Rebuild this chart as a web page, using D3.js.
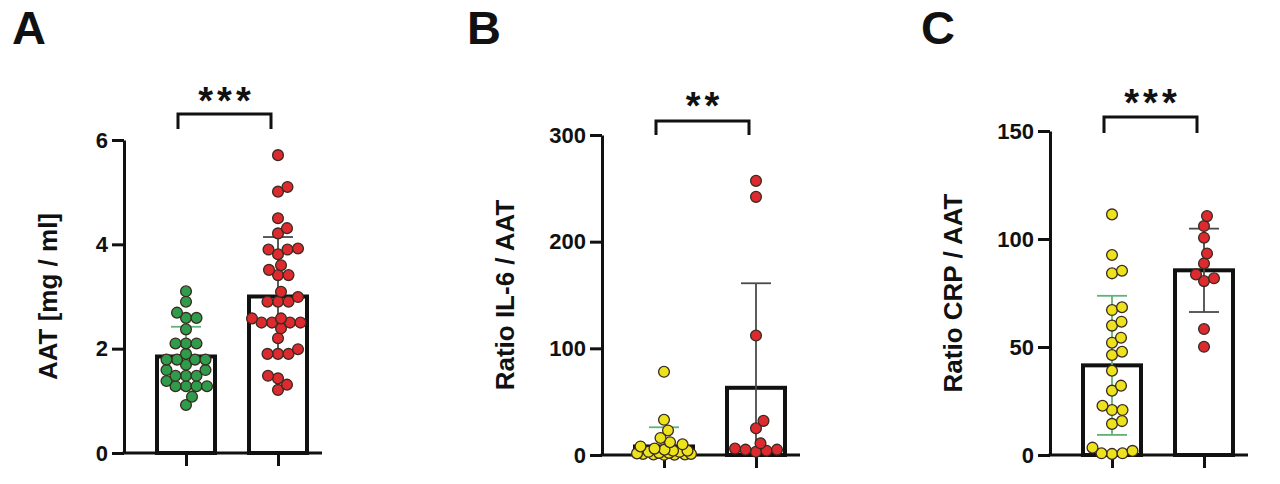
<!DOCTYPE html>
<html>
<head>
<meta charset="utf-8">
<script src="https://cdn.jsdelivr.net/npm/d3@7"></script>
<style>
  html, body { margin: 0; padding: 0; background: #fff; }
  svg { display: block; font-family: "Liberation Sans", Arial, sans-serif; }
</style>
</head>
<body>
<svg id="chart" width="1280" height="484"></svg>
<script>
// ---------------- data ----------------
const groups = ["Control", "Patient"];
const panelLetters = ["A", "B", "C"];
const yLabels = ["AAT [mg / ml]", "Ratio IL-6 / AAT", "Ratio CRP / AAT"];
const significance = ["***", "**", "***"];

const aatTicks = [0, 2, 4, 6];
const il6Ticks = [0, 100, 200, 300];
const crpTicks = [0, 50, 100, 150];

const aatControl = [3.10, 2.90, 2.59, 2.59, 2.69, 2.37, 2.10, 2.10, 2.10, 1.79, 1.79, 1.79, 1.79, 1.90,
  1.59, 1.59, 1.69, 1.48, 1.48, 1.48, 1.38, 1.28, 1.28, 1.28, 1.28, 1.08, 0.92];
const aatPatient = [5.71, 5.01, 5.10, 4.50, 4.31, 4.21, 3.92, 3.81, 3.90, 3.90, 3.60, 3.51, 3.41, 3.41,
  3.09, 2.99, 2.90, 2.90, 2.90, 2.58, 2.58, 2.50, 2.50, 2.39, 2.50, 2.50, 2.20, 1.90, 1.99, 1.90, 1.90,
  1.43, 1.48, 1.21, 1.31];
const aatMean = [1.85, 3.0];
const aatSD = [0.57, 1.14];

const il6Control = [78, 33, 23, 16, 12, 10, 8, 6, 5, 4, 4, 3, 3, 2, 2, 1.5, 1, 1, 0.5, 0.5, 0.3, 0.2];
const il6Patient = [257, 242, 112, 32, 25, 11, 5, 4, 6, 3, 5];
const il6Mean = [8, 63];
const il6SD = [18, 98];

const crpControl = [111.4, 92.6, 84.1, 85.3, 67.1, 68.4, 59.9, 61.7, 52.0, 54.3, 46.3, 47.8, 39.0, 29.8,
  32.1, 20.8, 20.8, 22.8, 15.7, 14.4, 3.4, 0.8, 0.8, 1.9, 0.5];
const crpPatient = [110.6, 106.0, 100.6, 93.3, 88.7, 83.6, 81.8, 80.5, 58.3, 50.1];
const crpMean = [41.5, 85.5];
const crpSD = [32.2, 19.3];

// ---------------- layout / style ----------------
const layouts = [
  { axisX: 124, y0: 453, yTop: 140, max: 6,   letterX: 12,  sigY: 112, brY: 114, brBottom: 129, ctrlFill: "#2e9c4a", ticks: aatTicks,
    values: [aatControl, aatPatient], mean: aatMean, sd: aatSD },
  { axisX: 602, y0: 455, yTop: 135, max: 300, letterX: 467, sigY: 117, brY: 121, brBottom: 135, ctrlFill: "#ece31c", ticks: il6Ticks,
    values: [il6Control, il6Patient], mean: il6Mean, sd: il6SD },
  { axisX: 1050, y0: 455, yTop: 131, max: 150, letterX: 921, sigY: 114, brY: 117, brBottom: 133, ctrlFill: "#ece31c", ticks: crpTicks,
    values: [crpControl, crpPatient], mean: crpMean, sd: crpSD }
];
const patientFill = "#dd2a2e";
const pointStroke = "#3a2a22";
const errColors = ["#62b277", "#4a4a4a"];
const R = 5.4;
const barW = 58;
const axisLen = 198;
const maxSpread = 27;

const svg = d3.select("#chart");

function dodge(vals, y, r) {
  const placed = [];
  const out = [];
  const cands = [0];
  for (let k = 0.5; k <= maxSpread; k += 0.5) { cands.push(k, -k); }
  vals.map((v, i) => ({ v, i }))
    .sort((a, b) => a.v - b.v)
    .forEach(d => {
      const py = y(d.v);
      let best = 0, bestScore = Infinity;
      for (const off of cands) {
        let score = 0;
        for (const p of placed) {
          const dist = Math.hypot(p.x - off, p.y - py);
          const ov = 2 * r * 0.95 - dist;
          if (ov > score) score = ov;
        }
        if (score <= 0) { best = off; bestScore = 0; break; }
        if (score < bestScore - 1e-6) { bestScore = score; best = off; }
      }
      placed.push({ x: best, y: py });
      out.push({ v: d.v, dx: best });
    });
  return out;
}

layouts.forEach((L, pi) => {
  const g = svg.append("g");
  const y = d3.scaleLinear().domain([0, L.max]).range([L.y0, L.yTop]);
  const x = d3.scalePoint().domain(groups).range([L.axisX + 62, L.axisX + 154]);

  // panel letter
  g.append("text").attr("x", L.letterX).attr("y", 44)
    .attr("font-size", 47).attr("font-weight", "bold").attr("fill", "#111")
    .text(panelLetters[pi]);

  // y axis
  const yAxis = d3.axisLeft(y).tickValues(L.ticks).tickSize(12).tickSizeOuter(0).tickPadding(4).tickFormat(d3.format("d"));
  const ya = g.append("g").attr("transform", `translate(${L.axisX},0)`).call(yAxis);
  ya.select(".domain").attr("stroke", "#111").attr("stroke-width", 3);
  ya.selectAll(".tick line").attr("stroke", "#111").attr("stroke-width", 3);
  ya.selectAll(".tick text").attr("font-size", 22).attr("font-weight", "bold").attr("fill", "#111")
    .attr("font-family", '"Liberation Sans", Arial, sans-serif');

  // x axis baseline + ticks
  g.append("line").attr("x1", L.axisX - 1.5).attr("x2", L.axisX + axisLen)
    .attr("y1", L.y0).attr("y2", L.y0).attr("stroke", "#111").attr("stroke-width", 3);
  const xAxis = d3.axisBottom(x).tickSize(13).tickSizeOuter(0).tickFormat("");
  const xa = g.append("g").attr("transform", `translate(0,${L.y0})`).call(xAxis);
  xa.select(".domain").remove();
  xa.selectAll(".tick line").attr("stroke", "#111").attr("stroke-width", 3);

  // y label
  g.append("text")
    .attr("transform", `translate(${L.axisX - (pi === 0 ? 67 : 88)},${(L.y0 + L.yTop) / 2}) rotate(-90)`)
    .attr("text-anchor", "middle").attr("font-size", 26).attr("font-weight", "bold").attr("fill", "#111")
    .text(yLabels[pi]);

  // bars
  g.selectAll("rect.bar").data(groups).join("rect").attr("class", "bar")
    .attr("x", d => x(d) - barW / 2).attr("width", barW)
    .attr("y", (d, i) => y(L.mean[i])).attr("height", (d, i) => L.y0 - y(L.mean[i]))
    .attr("fill", "#fff").attr("stroke", "#111").attr("stroke-width", 4);

  // error bars
  groups.forEach((grp, i) => {
    const lo = Math.max(0, L.mean[i] - L.sd[i]);
    const hi = L.mean[i] + L.sd[i];
    const cx = x(grp);
    const eg = g.append("g").attr("stroke", errColors[i]).attr("stroke-width", 1.8);
    eg.append("line").attr("x1", cx).attr("x2", cx).attr("y1", y(lo)).attr("y2", y(hi));
    eg.append("line").attr("x1", cx - 15).attr("x2", cx + 15).attr("y1", y(hi)).attr("y2", y(hi));
    if (lo > 0) eg.append("line").attr("x1", cx - 15).attr("x2", cx + 15).attr("y1", y(lo)).attr("y2", y(lo));
  });

  // points
  groups.forEach((grp, i) => {
    const pts = dodge(L.values[i], y, R);
    g.selectAll(null).data(pts).join("circle")
      .attr("cx", d => x(grp) + d.dx).attr("cy", d => y(d.v)).attr("r", R)
      .attr("fill", i === 0 ? L.ctrlFill : patientFill)
      .attr("stroke", pointStroke).attr("stroke-width", 1.3);
  });

  // significance bracket
  const bx1 = x(groups[0]) - 8, bx2 = x(groups[1]) - 7;
  g.append("path")
    .attr("d", `M${bx1},${L.brBottom}V${L.brY}H${bx2}V${L.brBottom}`)
    .attr("fill", "none").attr("stroke", "#111").attr("stroke-width", 3);
  const ls = 4;
  g.append("text").attr("x", (bx1 + bx2) / 2 + ls / 2).attr("y", L.sigY + 2)
    .attr("text-anchor", "middle").attr("font-size", 38).attr("font-weight", "bold")
    .attr("letter-spacing", ls).attr("fill", "#111")
    .text(significance[pi]);
});
</script>
</body>
</html>
